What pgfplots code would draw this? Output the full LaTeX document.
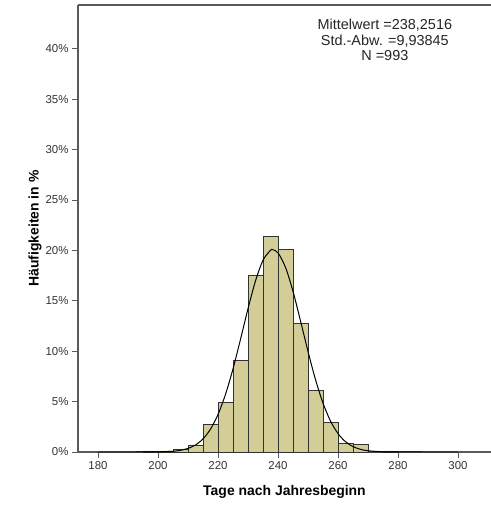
\documentclass[border=0pt]{standalone}
\usepackage{pgfplots}
\pgfplotsset{compat=1.18}
\usepackage{fontspec}
\setmainfont{Liberation Sans}
\definecolor{barfill}{HTML}{D3CE97}
\definecolor{baredge}{HTML}{333333}
\definecolor{axgray}{HTML}{5A5A5A}
\begin{document}
\begin{tikzpicture}
\begin{axis}[
  at={(78bp,53bp)}, anchor=south west,
  scale only axis, width=413bp, height=447bp,
  xmin=173.333, xmax=311, ymin=0, ymax=44.35,
  axis x line*=bottom, axis y line*=left,
  axis line style={axgray, line width=1.1pt},
  every tick/.style={axgray, line width=0.9pt},
  tick align=outside, major tick length=6bp,
  xtick={180,200,...,300},
  ytick={0,5,...,40},
  yticklabel={\pgfmathprintnumber{\tick}\%},
  /pgf/number format/assume math mode=true,
  ticklabel style={font=\fontsize{11.5}{13}\selectfont, text=black!80},
  xlabel={Tage nach Jahresbeginn},
  ylabel={Häufigkeiten in \%},
  label style={font=\fontsize{14}{16}\selectfont\bfseries},
  xlabel style={at={(axis description cs:0.5,-0.0895)}, anchor=center},
  ylabel style={at={(axis description cs:-0.104,0.5)}, anchor=center},
  clip=false,
]
\addplot[ybar interval, fill=barfill, draw=baredge, line width=0.75pt] coordinates {
  (195,0.1) (200,0.1) (205,0.3) (210,0.7) (215,2.7) (220,4.95) (225,9.1)
  (230,17.5) (235,21.4) (240,20.1) (245,12.75) (250,6.15) (255,2.9)
  (260,0.9) (265,0.75) (270,0) (275,0.1) (280,0.1)
};
\addplot[black, line width=1pt, smooth] coordinates {
  (180,0) (190,0) (195,0.0015) (200,0.012) (205,0.075) (207.5,0.167) (210,0.353)
  (212.5,0.699) (215,1.30) (217.5,2.27) (220,3.72) (222.5,5.72) (225,8.25)
  (227.5,11.18) (230,14.22) (232.5,16.98) (235,19.02) (237.5,20.01)
  (238.25,20.07) (240,19.76) (242.5,18.32) (245,15.94) (247.5,13.01)
  (250,9.98) (252.5,7.18) (255,4.85) (257.5,3.07) (260,1.83) (262.5,1.02)
  (265,0.536) (267.5,0.264) (270,0.122) (275,0.0215) (280,0.003) (290,0) (300,0)
};
\draw[axgray, line width=1.1pt] (rel axis cs:0,1) -- (rel axis cs:1.02,1);
\node[align=center, font=\fontsize{14.5}{15.5}\selectfont, text=black!85]
  at (axis description cs:0.743,0.922)
  {Mittelwert =238,2516\\Std.-Abw. =9,93845\\N =993};
\end{axis}
\pgfresetboundingbox
\path[use as bounding box] (0,0) rectangle (491bp,505bp);
\end{tikzpicture}
\end{document}
